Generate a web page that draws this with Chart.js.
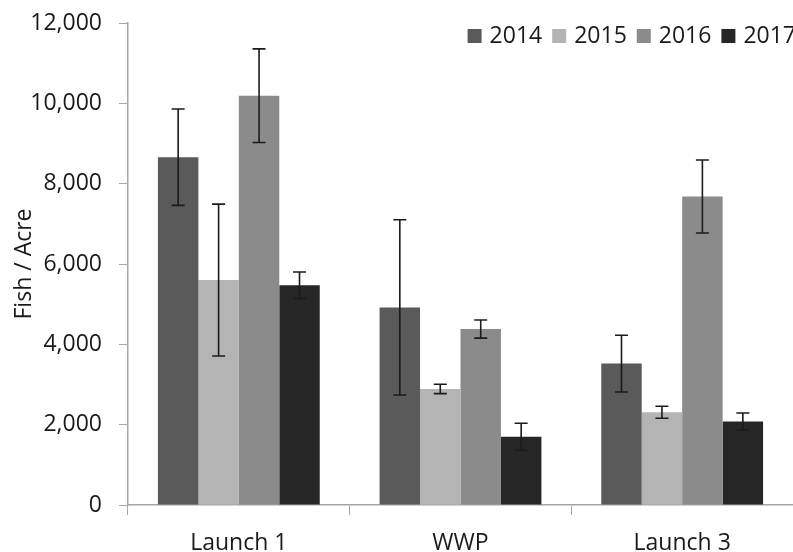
<!DOCTYPE html>
<html>
<head>
<meta charset="utf-8">
<script src="https://cdn.jsdelivr.net/npm/chart.js@4/dist/chart.umd.min.js"></script>
<style>
  html, body { margin: 0; padding: 0; background: #fff; overflow: hidden; }
  #wrap { width: 793px; height: 552px; }
</style>
</head>
<body>
<div id="wrap"><canvas id="chart" width="793" height="552"></canvas></div>
<script>
"use strict";

// ---- data ----
const categories = ["Launch 1", "WWP", "Launch 3"];
const years = ["2014", "2015", "2016", "2017"];
const values2014 = [8660, 4920, 3520];
const values2015 = [5600, 2890, 2310];
const values2016 = [10190, 4380, 7680];
const values2017 = [5470, 1700, 2080];
const err2014 = [1200, 2180, 705];
const err2015 = [1890, 117, 150];
const err2016 = [1165, 225, 908];
const err2017 = [330, 336, 212];
const yTicks = [0, 2000, 4000, 6000, 8000, 10000, 12000];

const barColors = ["#5a5a5a", "#b4b4b4", "#8b8b8b", "#262626"];
const FONT = "'Open Sans', 'DejaVu Sans', sans-serif";

const seriesValues = [values2014, values2015, values2016, values2017];
const seriesErrors = [err2014, err2015, err2016, err2017];

/* error bars drawn through the library's scales */
const errorBars = {
    id: "errorBars",
    afterDatasetsDraw(chart) {
        const { ctx } = chart;
        const y = chart.scales.y;
        ctx.save();
        ctx.strokeStyle = "#1b1b1b";
        ctx.lineWidth = 1.6;
        chart.data.datasets.forEach((ds, di) => {
            const meta = chart.getDatasetMeta(di);
            meta.data.forEach((bar, i) => {
                const v = ds.data[i], e = ds.errors[i];
                const top = y.getPixelForValue(v + e);
                const bot = y.getPixelForValue(v - e);
                const cx = bar.x, cap = 6.5;
                ctx.beginPath();
                ctx.moveTo(cx, top); ctx.lineTo(cx, bot);
                ctx.moveTo(cx - cap, top); ctx.lineTo(cx + cap, top);
                ctx.moveTo(cx - cap, bot); ctx.lineTo(cx + cap, bot);
                ctx.stroke();
            });
        });
        ctx.restore();
    }
};

/* legend overlapping the top-right of the plot, right aligned */
const insetLegend = {
    id: "insetLegend",
    afterDraw(chart) {
        const { ctx, chartArea } = chart;
        const box = 14, gap = 8, spacing = 10;
        ctx.save();
        ctx.font = "23px " + FONT;
        ctx.textBaseline = "middle";
        ctx.textAlign = "left";
        const items = chart.data.datasets.map(ds => ({
            text: ds.label, color: ds.backgroundColor, w: ctx.measureText(ds.label).width
        }));
        const total = items.reduce((s, it) => s + box + gap + it.w, 0) + spacing * (items.length - 1);
        let x = chartArea.right + 3 - total;
        const cy = chartArea.top + 13;
        items.forEach(it => {
            ctx.fillStyle = it.color;
            ctx.fillRect(x, cy - box / 2, box, box);
            ctx.fillStyle = "#1a1a1a";
            ctx.fillText(it.text, x + box + gap, cy);
            x += box + gap + it.w + spacing;
        });
        ctx.restore();
    }
};

const datasets = years.map((yr, i) => ({
    label: yr,
    data: seriesValues[i],
    errors: seriesErrors[i],
    backgroundColor: barColors[i],
    borderWidth: 0,
    categoryPercentage: 0.73,
    barPercentage: 1.0
}));

new Chart(document.getElementById("chart").getContext("2d"), {
    type: "bar",
    data: { labels: categories, datasets },
    plugins: [errorBars, insetLegend],
    options: {
        responsive: false,
        animation: false,
        layout: { padding: { top: 23, right: 0, left: 0, bottom: 0 } },
        plugins: {
            tooltip: { enabled: false },
            legend: { display: false }
        },
        scales: {
            x: {
                afterFit(s) { s.height = 47; s.paddingLeft = 0; s.paddingRight = 0; },
                grid: { drawOnChartArea: false, drawTicks: true, tickLength: 10, color: "#a6a6a6", offset: true },
                border: { color: "#a6a6a6", width: 1.5 },
                ticks: { color: "#1a1a1a", padding: 15, font: { family: FONT, size: 23 } }
            },
            y: {
                min: 0,
                max: 12000,
                afterFit(s) { s.width = 128; s.paddingTop = 0; s.paddingBottom = 0; },
                afterBuildTicks(s) { s.ticks = yTicks.map(v => ({ value: v })); },
                grid: { drawOnChartArea: false, drawTicks: true, tickLength: 9, color: "#a6a6a6" },
                border: { color: "#a6a6a6", width: 1.5 },
                ticks: {
                    color: "#1a1a1a",
                    padding: 17,
                    font: { family: FONT, size: 23 },
                    callback: v => v.toLocaleString("en-US")
                },
                title: {
                    display: true,
                    text: "Fish / Acre",
                    color: "#1a1a1a",
                    padding: { top: 11, bottom: 4 },
                    font: { family: FONT, size: 23 }
                }
            }
        }
    }
});
</script>
</body>
</html>
